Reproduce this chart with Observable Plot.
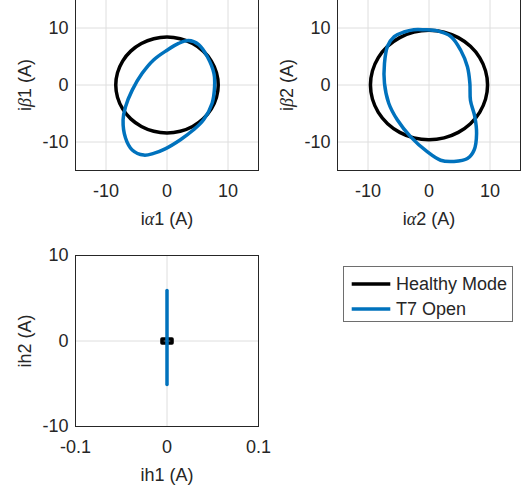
<!DOCTYPE html>
<html><head><meta charset="utf-8">
<script src="https://cdn.jsdelivr.net/npm/d3@7"></script>
<script src="https://cdn.jsdelivr.net/npm/@observablehq/plot@0.6"></script>
<style>
body{margin:0;background:#fff;}
#fig{position:relative;width:522px;height:489px;overflow:hidden;background:#fff;font-family:"Liberation Sans",Arial,sans-serif;color:#262626;}
.panel{position:absolute;}
#legend{position:absolute;left:343px;top:266px;width:170px;height:56px;box-sizing:border-box;border:1px solid #6e6e6e;background:#fff;}
.lrow{position:absolute;left:0;height:24px;display:flex;align-items:center;font-size:18px;color:#262626;white-space:nowrap;}
</style></head><body><div id="fig"><div id="legend"></div></div>
<script>
// ---- data ----
const seriesNames = ["Healthy Mode", "T7 Open"];
const seriesColors = ["#000000", "#0072BD"];

const abTicks = [-10, 0, 10];
const hXTicks = [-0.1, 0, 0.1];
const hYTicks = [-10, 0, 10];

// Panel 1: i_alpha1 vs i_beta1
const healthy1X = [8.4, 8.11, 7.27, 5.94, 4.2, 2.17, 0, -2.17, -4.2, -5.94, -7.27, -8.11, -8.4, -8.11, -7.27, -5.94, -4.2, -2.17, 0, 2.17, 4.2, 5.94, 7.27, 8.11];
const healthy1Y = [0, 2.17, 4.2, 5.94, 7.27, 8.11, 8.4, 8.11, 7.27, 5.94, 4.2, 2.17, 0, -2.17, -4.2, -5.94, -7.27, -8.11, -8.4, -8.11, -7.27, -5.94, -4.2, -2.17];
const fault1X = [3.5, 5.2, 6.6, 7.7, 7.8, 7.4, 6.0, 4.3, 2.2, -0.3, -2.2, -3.8, -5.7, -6.8, -7.2, -6.8, -5.7, -4.1, -2.2, 0, 1.9];
const fault1Y = [7.8, 7.1, 5.0, 2.0, -0.3, -3.2, -6.1, -7.9, -9.6, -11.2, -12.0, -12.3, -11.4, -9.3, -6.1, -3.8, -0.9, 2.0, 4.4, 6.1, 7.3];

// Panel 2: i_alpha2 vs i_beta2
const healthy2X = [9.6, 9.27, 8.31, 6.79, 4.8, 2.48, 0, -2.48, -4.8, -6.79, -8.31, -9.27, -9.6, -9.27, -8.31, -6.79, -4.8, -2.48, 0, 2.48, 4.8, 6.79, 8.31, 9.27];
const healthy2Y = [0, 2.48, 4.8, 6.79, 8.31, 9.27, 9.6, 9.27, 8.31, 6.79, 4.8, 2.48, 0, -2.48, -4.8, -6.79, -8.31, -9.27, -9.6, -9.27, -8.31, -6.79, -4.8, -2.48];
const fault2X = [-0.8, 1.4, 3.6, 5.2, 6.3, 6.7, 6.8, 7.5, 7.8, 7.4, 6.3, 4.1, 1.9, -0.3, -3.0, -5.2, -6.6, -7.3, -7.3, -6.8, -5.7, -4.1, -2.5];
const fault2Y = [9.7, 9.5, 8.5, 6.1, 3.2, 0.3, -2.7, -5.5, -8.5, -11.4, -12.9, -13.4, -13.2, -11.7, -9.1, -6.1, -3.2, 0.3, 3.8, 6.8, 8.5, 9.3, 9.7];

// Panel 3: ih1 vs ih2
const healthyHX = [-0.0055, 0.0055, 0.0055, -0.0055];
const healthyHY = [-0.23, -0.23, 0.23, 0.23];
const faultHX = [0, 0];
const faultHY = [-5.1, 5.9];

// ---- drawing ----
const FONT = '"Liberation Sans", Arial, Helvetica, sans-serif';
const zip = (xs, ys) => xs.map((x, i) => ({x, y: ys[i]}));
const fmt = d => String(d);

function italicGreek(svg) {
  svg.querySelectorAll("text").forEach(t => {
    const s = t.textContent;
    if (!/[αβ]/.test(s) || t.children.length) return;
    t.textContent = "";
    for (const part of s.split(/([αβ])/)) {
      if (!part) continue;
      const ts = document.createElementNS("http://www.w3.org/2000/svg", "tspan");
      ts.textContent = part;
      if (/[αβ]/.test(part)) {
        ts.setAttribute("font-family", '"Liberation Serif", "DejaVu Serif", serif');
        ts.setAttribute("font-style", "italic");
      }
      t.appendChild(ts);
    }
  });
}

function panel({hx, hy, fx, fy, xDomain, yDomain, xTicks, yTicks, xLabel, yLabel, healthyCurve, faultCurve, marginRight, left, top}) {
  const frameW = 183, frameH = 171;
  const mL = 75, mT = 10, mB = 70;
  const svg = Plot.plot({
    width: mL + frameW + marginRight,
    height: mT + frameH + mB,
    marginLeft: mL, marginRight, marginTop: mT, marginBottom: mB,
    style: {fontFamily: FONT, fontSize: "18px", color: "#262626", background: "transparent", overflow: "visible"},
    x: {domain: xDomain},
    y: {domain: yDomain},
    marks: [
      Plot.gridX(xTicks, {stroke: "#dedede", strokeOpacity: 1, strokeWidth: 1}),
      Plot.gridY(yTicks, {stroke: "#dedede", strokeOpacity: 1, strokeWidth: 1}),
      Plot.line(zip(hx, hy), {x: "x", y: "y", stroke: seriesColors[0], strokeWidth: 3.5, curve: healthyCurve}),
      Plot.line(zip(fx, fy), {x: "x", y: "y", stroke: seriesColors[1], strokeWidth: 3.5, curve: faultCurve}),
      Plot.frame({stroke: "#262626", strokeWidth: 1}),
      Plot.axisX(xTicks, {tickSize: 0, tickPadding: 14, tickFormat: fmt, label: xLabel, labelArrow: "none", labelAnchor: "center", labelOffset: 54}),
      Plot.axisY(yTicks, {tickSize: 0, tickPadding: 7, tickFormat: fmt, label: yLabel, labelArrow: "none", labelAnchor: "center", labelOffset: 57})
    ]
  });
  italicGreek(svg);
  svg.classList.add("panel");
  svg.style.position = "absolute";
  svg.style.left = left + "px";
  svg.style.top = top + "px";
  document.getElementById("fig").appendChild(svg);
}

panel({hx: healthy1X, hy: healthy1Y, fx: fault1X, fy: fault1Y,
  xDomain: [-15, 15], yDomain: [-15, 15], xTicks: abTicks, yTicks: abTicks,
  xLabel: "iα1 (A)", yLabel: "iβ1 (A)", healthyCurve: "catmull-rom-closed", faultCurve: "catmull-rom-closed",
  marginRight: 10, left: 0, top: -11});

panel({hx: healthy2X, hy: healthy2Y, fx: fault2X, fy: fault2Y,
  xDomain: [-15, 15], yDomain: [-15, 15], xTicks: abTicks, yTicks: abTicks,
  xLabel: "iα2 (A)", yLabel: "iβ2 (A)", healthyCurve: "catmull-rom-closed", faultCurve: "catmull-rom-closed",
  marginRight: 2, left: 262, top: -11});

panel({hx: healthyHX, hy: healthyHY, fx: faultHX, fy: faultHY,
  xDomain: [-0.1, 0.1], yDomain: [-10, 10], xTicks: hXTicks, yTicks: hYTicks,
  xLabel: "ih1 (A)", yLabel: "ih2 (A)", healthyCurve: "linear-closed", faultCurve: "linear",
  marginRight: 10, left: 0, top: 245});

// legend
const legend = document.getElementById("legend");
seriesNames.forEach((name, i) => {
  const row = document.createElement("div");
  row.className = "lrow";
  row.style.top = (5.3 + 25 * i) + "px";
  row.innerHTML = `<svg width="52" height="24" style="display:block"><line x1="7.7" x2="46.3" y1="12" y2="12" stroke="${seriesColors[i]}" stroke-width="3.5"/></svg><span>${name}</span>`;
  legend.appendChild(row);
});
</script>
</body></html>
